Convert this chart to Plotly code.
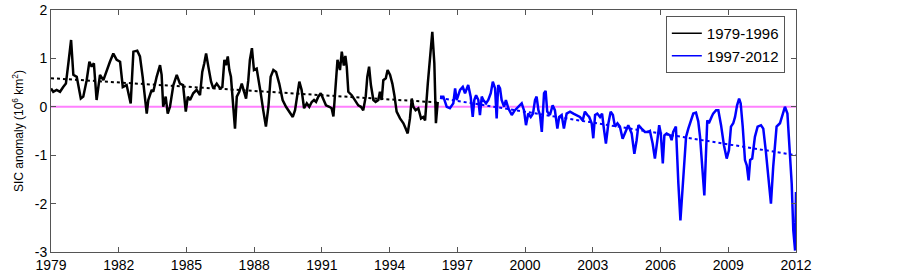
import plotly.graph_objects as go

# ---- data (decimal year, SIC anomaly in 10^6 km^2) ----
years_early = [1979.00, 1979.10, 1979.25, 1979.40, 1979.54, 1979.66, 1979.77, 1979.89, 1979.99, 1980.14,
               1980.32, 1980.43, 1980.58, 1980.70, 1980.80, 1980.90, 1981.02, 1981.17, 1981.32, 1981.47,
               1981.61, 1981.76, 1981.91, 1982.06, 1982.18, 1982.35, 1982.53, 1982.65, 1982.82, 1982.94,
               1983.06, 1983.24, 1983.31, 1983.46, 1983.53, 1983.68, 1983.83, 1983.90, 1983.97, 1984.08,
               1984.17, 1984.27, 1984.42, 1984.57, 1984.71, 1984.85, 1984.97, 1985.06, 1985.16, 1985.30,
               1985.45, 1985.60, 1985.70, 1985.79, 1985.87, 1985.97, 1986.09, 1986.19, 1986.34, 1986.49,
               1986.59, 1986.68, 1986.75, 1986.83, 1986.90, 1986.97, 1987.07, 1987.15, 1987.23, 1987.34,
               1987.45, 1987.52, 1987.64, 1987.74, 1987.81, 1987.90, 1987.99, 1988.11, 1988.18, 1988.29,
               1988.40, 1988.52, 1988.63, 1988.73, 1988.85, 1988.97, 1989.11, 1989.26, 1989.41, 1989.56,
               1989.71, 1989.81, 1989.91, 1990.00, 1990.10, 1990.21, 1990.33, 1990.44, 1990.55, 1990.65,
               1990.74, 1990.84, 1990.95, 1991.06, 1991.18, 1991.33, 1991.43, 1991.51, 1991.69, 1991.80,
               1991.88, 1991.97, 1992.04, 1992.10, 1992.17, 1992.32, 1992.47, 1992.61, 1992.73, 1992.83,
               1992.94, 1993.01, 1993.09, 1993.17, 1993.28, 1993.38, 1993.50, 1993.57, 1993.65, 1993.72,
               1993.83, 1993.91, 1994.02, 1994.12, 1994.21, 1994.31, 1994.46, 1994.61, 1994.71, 1994.80,
               1994.90, 1994.98, 1995.05, 1995.15, 1995.27, 1995.39, 1995.49, 1995.57, 1995.69, 1995.79,
               1995.89, 1995.98, 1996.05, 1996.13]
sic_early = [0.38, 0.31, 0.35, 0.31, 0.41, 0.48, 0.90, 1.38, 0.66, 0.62,
             0.17, 0.21, 0.55, 0.93, 0.83, 0.90, 0.14, 0.66, 0.55, 0.76,
             0.93, 1.10, 0.97, 0.93, 0.41, 0.45, 0.07, 1.14, 1.16, 1.04,
             0.62, -0.14, 0.14, 0.35, 0.31, 0.62, 0.86, 0.66, 0.00, 0.21,
             -0.14, 0.00, 0.45, 0.66, 0.48, 0.45, -0.10, 0.21, 0.14, 0.28,
             0.35, 0.24, 0.72, 0.90, 1.10, 0.83, 0.52, 0.38, 0.48, 0.38,
             0.41, 0.97, 0.86, 1.04, 0.76, 0.62, 0.00, -0.45, 0.21, 0.31,
             0.48, 0.35, 0.17, 0.55, 0.97, 1.21, 0.76, 0.79, 0.62, 0.28,
             -0.07, -0.41, 0.00, 0.62, 0.76, 0.72, 0.48, 0.14, 0.00, -0.10,
             -0.21, -0.07, 0.28, 0.52, 0.35, -0.03, 0.07, 0.00, 0.10, 0.14,
             0.10, 0.21, 0.28, 0.17, 0.03, 0.00, -0.03, -0.20, 0.97, 0.76,
             1.14, 0.85, 1.05, 0.83, 0.31, 0.24, 0.14, 0.03, 0.00, -0.07,
             0.21, 0.62, 0.83, 0.45, 0.14, 0.10, 0.14, 0.31, 0.14, 0.55,
             0.59, 0.76, 0.66, 0.48, 0.24, -0.10, -0.24, -0.34, -0.45, -0.55,
             -0.24, 0.17, 0.00, -0.07, -0.03, -0.24, -0.21, -0.28, 0.48, 1.07,
             1.55, 0.90, -0.34, 0.10]

years_late = [1996.23, 1996.38, 1996.53, 1996.67, 1996.82, 1996.90, 1996.97, 1997.12, 1997.24, 1997.34,
              1997.48, 1997.59, 1997.68, 1997.75, 1997.83, 1997.93, 1998.00, 1998.08, 1998.15, 1998.27,
              1998.37, 1998.48, 1998.57, 1998.67, 1998.74, 1998.81, 1998.89, 1998.96, 1999.07, 1999.15,
              1999.26, 1999.41, 1999.55, 1999.70, 1999.85, 1999.95, 2000.04, 2000.14, 2000.25, 2000.35,
              2000.44, 2000.51, 2000.59, 2000.66, 2000.74, 2000.84, 2000.91, 2000.98, 2001.10, 2001.22,
              2001.32, 2001.43, 2001.51, 2001.62, 2001.72, 2001.84, 2001.99, 2002.14, 2002.28, 2002.43,
              2002.55, 2002.65, 2002.76, 2002.84, 2002.95, 2003.02, 2003.10, 2003.20, 2003.32, 2003.41,
              2003.49, 2003.58, 2003.69, 2003.79, 2003.89, 2003.98, 2004.09, 2004.20, 2004.32, 2004.43,
              2004.57, 2004.72, 2004.84, 2004.94, 2005.02, 2005.16, 2005.31, 2005.46, 2005.53, 2005.65,
              2005.75, 2005.86, 2005.94, 2006.01, 2006.10, 2006.17, 2006.27, 2006.42, 2006.49, 2006.56,
              2006.68, 2006.79, 2006.88, 2007.01, 2007.13, 2007.23, 2007.34, 2007.45, 2007.57, 2007.67,
              2007.75, 2007.84, 2007.94, 2008.07, 2008.14, 2008.26, 2008.33, 2008.46, 2008.56, 2008.68,
              2008.81, 2008.93, 2009.03, 2009.12, 2009.22, 2009.30, 2009.39, 2009.48, 2009.55, 2009.64,
              2009.74, 2009.82, 2009.90, 2009.97, 2010.06, 2010.18, 2010.30, 2010.45, 2010.55, 2010.66,
              2010.77, 2010.89, 2010.99, 2011.14, 2011.29, 2011.39, 2011.51, 2011.62, 2011.70, 2011.81,
              2011.88, 2011.96, 2012.00]
sic_late = [0.21, 0.21, 0.00, -0.03, 0.07, 0.38, 0.14, 0.35, 0.41, 0.28,
            0.45, 0.21, -0.21, 0.14, 0.24, 0.14, -0.17, 0.21, 0.14, 0.07,
            0.14, 0.28, 0.52, 0.38, -0.24, 0.45, 0.38, 0.14, 0.00, 0.14,
            -0.03, -0.17, -0.07, 0.00, 0.07, -0.07, -0.38, -0.14, -0.21, -0.14,
            0.14, 0.21, -0.07, -0.17, -0.52, 0.28, 0.33, -0.10, -0.17, 0.03,
            -0.07, -0.45, -0.21, -0.17, -0.45, -0.14, -0.10, -0.14, -0.17, -0.21,
            -0.28, -0.10, -0.17, -0.21, -0.34, -0.65, -0.17, -0.14, -0.21, -0.14,
            -0.45, -0.76, -0.34, -0.10, -0.17, -0.41, -0.34, -0.41, -0.66, -0.52,
            -0.38, -0.55, -0.97, -0.69, -0.38, -0.45, -0.52, -0.52, -0.50, -0.76,
            -1.07, -0.69, -0.38, -0.55, -1.17, -0.59, -0.55, -0.59, -0.69, -0.52,
            -0.41, -1.59, -2.35, -1.45, -0.62, -0.45, -0.28, -0.14, -0.12, -0.30,
            -0.62, -1.15, -1.83, -0.28, -0.34, -0.21, -0.14, -0.07, -0.07, -0.38,
            -0.80, -1.07, -0.90, -0.41, -0.34, -0.21, 0.03, 0.17, 0.07, -0.41,
            -1.10, -1.21, -1.52, -1.10, -1.07, -0.62, -0.41, -0.38, -0.45, -0.90,
            -1.45, -2.00, -1.24, -0.41, -0.34, -0.17, 0.00, -0.14, -0.69, -1.59,
            -2.55, -2.97, -1.76]

# linear trend end points
trend_early_x = [1979.00, 1996.13]
trend_early_y = [0.59, 0.09]
trend_late_x = [1996.23, 2012.00]
trend_late_y = [0.18, -1.00]

series_names = ["1979-1996", "1997-2012"]
series_colors = ["black", "#0000ff"]

x_ticks = [1979, 1982, 1985, 1988, 1991, 1994, 1997, 2000, 2003, 2006, 2009, 2012]
y_ticks = [-3, -2, -1, 0, 1, 2]

FONT = "Arial, 'Liberation Sans', sans-serif"
AX = "#555555"

fig = go.Figure()
fig.add_hline(y=0, line=dict(color="#ff80ff", width=2), layer="below")
fig.add_trace(go.Scatter(x=trend_early_x, y=trend_early_y, mode="lines",
                         line=dict(color=series_colors[0], width=2, dash="dot"), showlegend=False))
fig.add_trace(go.Scatter(x=trend_late_x, y=trend_late_y, mode="lines",
                         line=dict(color=series_colors[1], width=2, dash="dot"), showlegend=False))
fig.add_trace(go.Scatter(x=years_early, y=sic_early, mode="lines", showlegend=False,
                         line=dict(color=series_colors[0], width=2.5)))
fig.add_trace(go.Scatter(x=years_late, y=sic_late, mode="lines", showlegend=False,
                         line=dict(color=series_colors[1], width=2.5)))
# legend entries (thin line samples, as in the original legend)
for nm, col in zip(series_names, series_colors):
    fig.add_trace(go.Scatter(x=[None], y=[None], mode="lines", name=nm,
                             line=dict(color=col, width=1.5)))

axis_common = dict(showline=True, linecolor=AX, linewidth=1, mirror="ticks",
                   ticks="inside", ticklen=5, tickcolor=AX, showgrid=False, zeroline=False,
                   automargin=False,
                   tickfont=dict(family=FONT, size=14, color="black"))
fig.update_xaxes(range=[1979, 2012], tickvals=x_ticks, ticktext=[str(t) for t in x_ticks],
                 **axis_common)
fig.update_yaxes(range=[-3, 2], tickvals=y_ticks, ticktext=[str(t) for t in y_ticks],
                 title=dict(text="SIC anomaly (10<sup>6</sup> km<sup>2</sup>)",
                            font=dict(family=FONT, size=12, color="black"), standoff=8),
                 **axis_common)

fig.update_layout(
    width=903, height=272,
    margin=dict(l=51, r=107, t=10, b=20, autoexpand=False),
    plot_bgcolor="white", paper_bgcolor="white",
    legend=dict(x=0.985, y=0.975, xanchor="right", yanchor="top",
                bgcolor="white", bordercolor=AX, borderwidth=1,
                font=dict(family=FONT, size=15, color="black"),
                tracegroupgap=0, itemwidth=30),
)

fig.write_html("out.html", config={"displayModeBar": False},
               post_script="document.body.style.margin='0';document.body.style.overflow='hidden';")
